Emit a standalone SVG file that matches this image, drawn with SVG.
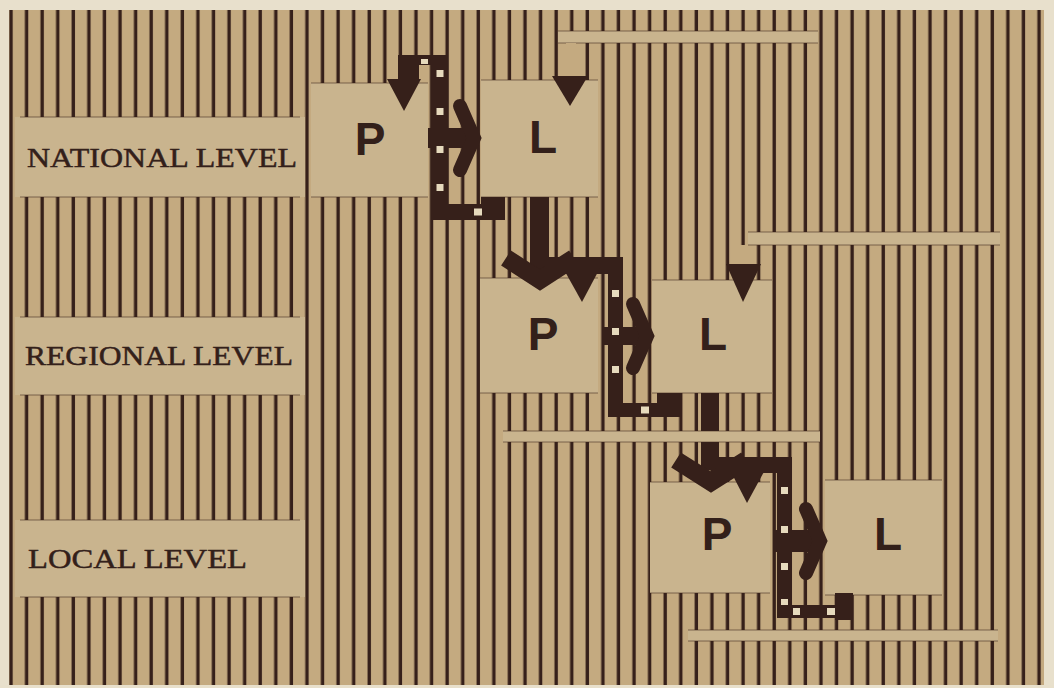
<svg xmlns="http://www.w3.org/2000/svg" width="1054" height="688" viewBox="0 0 1054 688">
<defs>
<pattern id="stripes" patternUnits="userSpaceOnUse" x="0" y="0" width="15.576" height="688">
<rect x="9.3" y="0" width="3.4" height="688" fill="#36201a"/>
</pattern>
<style>
.box{fill:#c9b48e}
.edge{stroke:#3b2219;stroke-width:1;opacity:0.55}
.lab{font-family:"Liberation Serif","DejaVu Serif",serif;font-size:27px;fill:#33201a;stroke:#33201a;stroke-width:0.45}
.pl{font-family:"Liberation Sans",Arial,sans-serif;font-weight:bold;font-size:46px;fill:#33201a;text-anchor:middle}
.ink{fill:#36201a}
.dash{fill:#e6dabd}
.chev{fill:none;stroke:#36201a;stroke-width:14;stroke-linecap:round;stroke-linejoin:miter}
.vee{fill:none;stroke:#36201a;stroke-width:18;stroke-linecap:butt;stroke-linejoin:miter}
.gap{fill:#c4aa80}
</style>
</defs>
<rect width="1054" height="688" fill="#e8e0cc"/>
<g id="ground">
<rect x="9" y="10" width="1035" height="675" fill="#c4aa80"/>
<rect x="9" y="10" width="1033" height="675" fill="url(#stripes)"/>
</g>
<g id="bands">
<rect class="box" x="558" y="31" width="260" height="12"/>
<line class="edge" x1="558" y1="31" x2="818" y2="31"/><line class="edge" x1="558" y1="43" x2="818" y2="43"/>
<rect class="box" x="748" y="232" width="252" height="13"/>
<line class="edge" x1="748" y1="232" x2="1000" y2="232"/><line class="edge" x1="748" y1="245" x2="1000" y2="245"/>
<rect class="box" x="503" y="431" width="317" height="11"/>
<line class="edge" x1="503" y1="431" x2="820" y2="431"/><line class="edge" x1="503" y1="442" x2="820" y2="442"/>
<rect class="box" x="688" y="630" width="310" height="11"/>
<line class="edge" x1="688" y1="630" x2="998" y2="630"/><line class="edge" x1="688" y1="641" x2="998" y2="641"/>
<rect class="gap" x="566" y="43" width="10" height="34"/>
<rect class="gap" x="738" y="245" width="10" height="20"/>
</g>
<g id="label-national">
<rect class="box" x="15" y="117" width="290" height="80"/>
<line class="edge" x1="20" y1="117" x2="300" y2="117"/><line class="edge" x1="20" y1="197" x2="300" y2="197"/>
<text class="lab" x="27" y="167" textLength="270" lengthAdjust="spacingAndGlyphs">NATIONAL LEVEL</text>
</g>
<g id="label-regional">
<rect class="box" x="15" y="317" width="290" height="78"/>
<line class="edge" x1="20" y1="317" x2="300" y2="317"/><line class="edge" x1="20" y1="395" x2="300" y2="395"/>
<text class="lab" x="25" y="365" textLength="268" lengthAdjust="spacingAndGlyphs">REGIONAL LEVEL</text>
</g>
<g id="label-local">
<rect class="box" x="15" y="520" width="290" height="77"/>
<line class="edge" x1="20" y1="520" x2="300" y2="520"/><line class="edge" x1="20" y1="597" x2="300" y2="597"/>
<text class="lab" x="28" y="568" textLength="219" lengthAdjust="spacingAndGlyphs">LOCAL LEVEL</text>
</g>
<g id="p-national">
<rect class="box" x="311" y="83" width="117" height="114"/>
<line class="edge" x1="311" y1="83" x2="428" y2="83"/><line class="edge" x1="311" y1="197" x2="428" y2="197"/>
<text class="pl" x="370" y="155">P</text>
</g>
<g id="l-national">
<rect class="box" x="481" y="80" width="117" height="117"/>
<line class="edge" x1="481" y1="80" x2="598" y2="80"/><line class="edge" x1="481" y1="197" x2="598" y2="197"/>
<text class="pl" x="543" y="153">L</text>
</g>
<g id="p-regional">
<rect class="box" x="480" y="278" width="118" height="115"/>
<line class="edge" x1="480" y1="278" x2="598" y2="278"/><line class="edge" x1="480" y1="393" x2="598" y2="393"/>
<text class="pl" x="543" y="350">P</text>
</g>
<g id="l-regional">
<rect class="box" x="652" y="280" width="120" height="113"/>
<line class="edge" x1="652" y1="280" x2="772" y2="280"/><line class="edge" x1="652" y1="393" x2="772" y2="393"/>
<text class="pl" x="713" y="350">L</text>
</g>
<g id="p-local">
<rect class="box" x="650" y="482" width="120" height="111"/>
<line class="edge" x1="650" y1="482" x2="770" y2="482"/><line class="edge" x1="650" y1="593" x2="770" y2="593"/>
<text class="pl" x="717" y="550">P</text>
</g>
<g id="l-local">
<rect class="box" x="825" y="480" width="117" height="115"/>
<line class="edge" x1="825" y1="480" x2="942" y2="480"/><line class="edge" x1="825" y1="595" x2="942" y2="595"/>
<text class="pl" x="888" y="550">L</text>
</g>
<g id="connectors">
<!-- national -->
<rect class="ink" x="398" y="55" width="21" height="27"/>
<rect class="ink" x="398" y="55" width="50" height="10"/>
<rect class="dash" x="421" y="59" width="7" height="5"/>
<polygon class="ink" points="387,79 421,79 404,111"/>
<polygon class="ink" points="552,76 588,76 570,106"/>
<rect class="ink" x="428" y="128" width="50" height="20"/>
<polyline class="chev" points="460,106 474,138 460,170"/>
<rect class="ink" x="432" y="55" width="16" height="165"/>
<rect class="ink" x="432" y="204" width="73" height="16"/>
<rect class="ink" x="481" y="197" width="24" height="23"/>
<rect class="dash" x="436.5" y="70" width="7" height="7"/>
<rect class="dash" x="436.5" y="108" width="7" height="7"/>
<rect class="dash" x="436.5" y="146" width="7" height="7"/>
<rect class="dash" x="436.5" y="184" width="7" height="7"/>
<rect class="dash" x="474" y="208.5" width="8" height="7"/>
<rect class="ink" x="530" y="197" width="19" height="75"/>
<!-- regional -->
<polyline class="vee" points="506,258 540,280 574,258"/>
<rect class="ink" x="545" y="257" width="78" height="17"/>
<polygon class="ink" points="563,268 600,268 582,302"/>
<polygon class="ink" points="726,264 761,264 743,302"/>
<rect class="ink" x="603" y="327" width="47" height="18"/>
<polyline class="chev" points="633,304 647,336 633,368"/>
<rect class="ink" x="608" y="257" width="15" height="160"/>
<rect class="ink" x="608" y="403" width="74" height="14"/>
<rect class="ink" x="657" y="393" width="25" height="24"/>
<rect class="dash" x="612" y="290" width="7" height="7"/>
<rect class="dash" x="612" y="328" width="7" height="7"/>
<rect class="dash" x="612" y="366" width="7" height="7"/>
<rect class="dash" x="641" y="406.5" width="8" height="7"/>
<rect class="ink" x="701" y="393" width="18" height="38"/>
<rect class="ink" x="701" y="442" width="18" height="28"/>
<!-- local -->
<polyline class="vee" points="676,460 711,482 746,460"/>
<rect class="ink" x="716" y="457" width="76" height="16"/>
<polygon class="ink" points="730,470 765,470 747,503"/>
<rect class="ink" x="773" y="530" width="50" height="22"/>
<polyline class="chev" points="806,509 820,541 806,573"/>
<rect class="ink" x="777" y="457" width="15" height="161"/>
<rect class="ink" x="777" y="605" width="60" height="13"/>
<rect class="ink" x="835" y="593" width="18" height="27"/>
<rect class="dash" x="781" y="487" width="7" height="7"/>
<rect class="dash" x="781" y="526" width="7" height="7"/>
<rect class="dash" x="781" y="563" width="7" height="7"/>
<rect class="dash" x="781" y="599" width="7" height="6"/>
<rect class="dash" x="793" y="608" width="7" height="7"/>
<rect class="dash" x="827" y="608" width="8" height="7"/>
</g>
</svg>
